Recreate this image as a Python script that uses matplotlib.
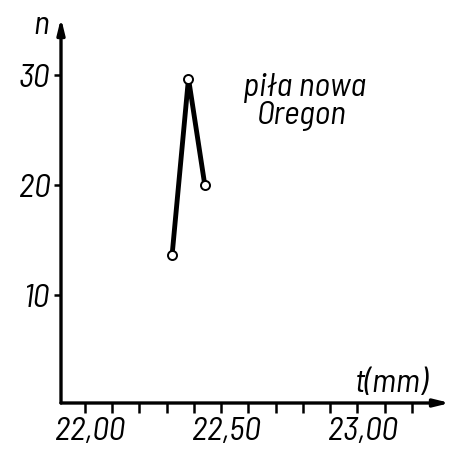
import matplotlib
matplotlib.use("Agg")
import matplotlib.pyplot as plt
import matplotlib.transforms as mtransforms
from matplotlib import font_manager

# Data
t_mm = [22.32, 22.38, 22.44]
n_vals = [13.7, 29.7, 20.0]
x_major = [22.00, 22.50, 23.00]
x_major_labels = ["22,00", "22,50", "23,00"]
x_minor = [22.0, 22.1, 22.2, 22.3, 22.4, 22.5, 22.6, 22.7, 22.8, 22.9, 23.0, 23.1, 23.2]
y_ticks = [10, 20, 30]
y_tick_labels = ["10", "20", "30"]

names = {f.name for f in font_manager.fontManager.ttflist}
if "Barlow Semi Condensed" in names:
    fam = ["Barlow Semi Condensed", "DejaVu Sans"]
    FS = 24
else:
    fam = ["DejaVu Sans"]
    FS = 21
plt.rcParams['font.family'] = fam
plt.rcParams['font.style'] = 'italic'
plt.rcParams['font.stretch'] = 'condensed'

fig = plt.figure(figsize=(4.51, 4.51), dpi=100)
ax = fig.add_axes([61/451, 48/451, 389/451, 385/451])
ax.set_xlim(21.912, 23.34)
ax.set_ylim(0.2, 35.2)

for s in ax.spines.values():
    s.set_visible(False)

ax.annotate("", xy=(1.0, 0), xytext=(0, 0), xycoords='axes fraction',
            arrowprops=dict(arrowstyle='-|>,head_length=0.9,head_width=0.22', lw=2.4, color='black', shrinkA=0, shrinkB=0))
ax.annotate("", xy=(0, 1.0), xytext=(0, 0), xycoords='axes fraction',
            arrowprops=dict(arrowstyle='-|>,head_length=0.9,head_width=0.22', lw=2.4, color='black', shrinkA=0, shrinkB=0))

ax.set_xticks(x_minor, minor=True)
ax.set_xticks(x_major)
ax.set_xticklabels(x_major_labels, fontsize=FS)
ax.set_yticks(y_ticks)
ax.set_yticklabels(y_tick_labels, fontsize=FS)
ax.tick_params(axis='x', which='both', direction='out', length=7, width=1.8, pad=3)
ax.tick_params(axis='y', which='both', direction='out', length=5, width=1.8, pad=3)
off = mtransforms.ScaledTranslation(5/100, 0, fig.dpi_scale_trans)
for lab in ax.get_xticklabels():
    lab.set_transform(lab.get_transform() + off)

ax.plot(t_mm, n_vals, color='black', lw=3.5, solid_joinstyle='miter', zorder=3)
ax.plot(t_mm, n_vals, linestyle='none', marker='o', markersize=6.5,
        markerfacecolor='white', markeredgecolor='black', markeredgewidth=1.4, zorder=4)

ax.text(21.838, 34.5, "n", fontsize=FS, ha='center', va='center', clip_on=False)
ax.text(23.125, 1.9, "t(mm)", fontsize=FS, ha='center', va='center')
ax.text(22.58, 28.8, "piła nowa", fontsize=FS, ha='left', va='center')
ax.text(22.63, 26.3, "Oregon", fontsize=FS, ha='left', va='center')

fig.savefig("out.png", dpi=100)
